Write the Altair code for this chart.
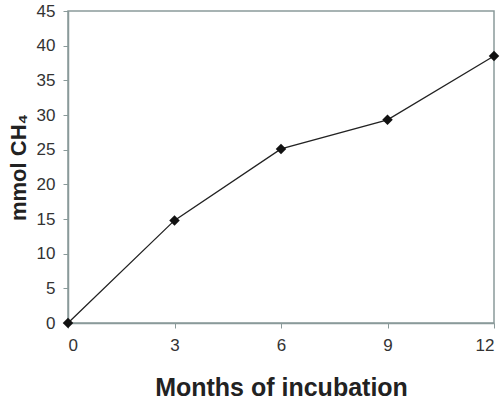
import altair as alt
import pandas as pd

months = [0, 3, 6, 9, 12]
ch4 = [0, 14.8, 25.1, 29.3, 38.5]

df = pd.DataFrame({"month": months, "ch4": ch4})

base = alt.Chart(df).encode(
    x=alt.X("month:Q", scale=alt.Scale(domain=[0, 12], nice=False),
            axis=alt.Axis(values=[0, 3, 6, 9, 12], title="Months of incubation",
                          titleFontSize=25, titleFontWeight="bold", titleColor="#222",
                          titleY=64, titleBaseline="middle",
                          labelFontSize=17, labelColor="#333", labelPadding=9,
                          tickSize=5, grid=False)),
    y=alt.Y("ch4:Q", scale=alt.Scale(domain=[0, 45], nice=False),
            axis=alt.Axis(values=list(range(0, 46, 5)), title="mmol CH₄",
                          titleFontSize=22, titleFontWeight="bold", titleColor="#222",
                          titleX=-50, titleY=156, titleAngle=-90, titleBaseline="middle",
                          labelFontSize=17, labelColor="#333", labelPadding=8,
                          tickSize=5, grid=False)),
)

line = base.mark_line(color="#222", strokeWidth=1.3)
pts = base.mark_point(shape="diamond", filled=True, color="#111", size=110, opacity=1)

chart = (line + pts).properties(
    width=426, height=312,
    autosize=alt.AutoSizeParams(type="none"),
    padding={"left": 68, "top": 11, "right": 10, "bottom": 87},
).configure_view(stroke="#8a9a9a", strokeWidth=1.5).configure_axis(
    domainColor="#8a9a9a", tickColor="#8a9a9a", domainWidth=1.5,
    labelFont="Liberation Sans", titleFont="Liberation Sans",
)

chart.save("out.html", embed_options={"renderer": "svg", "actions": False})
